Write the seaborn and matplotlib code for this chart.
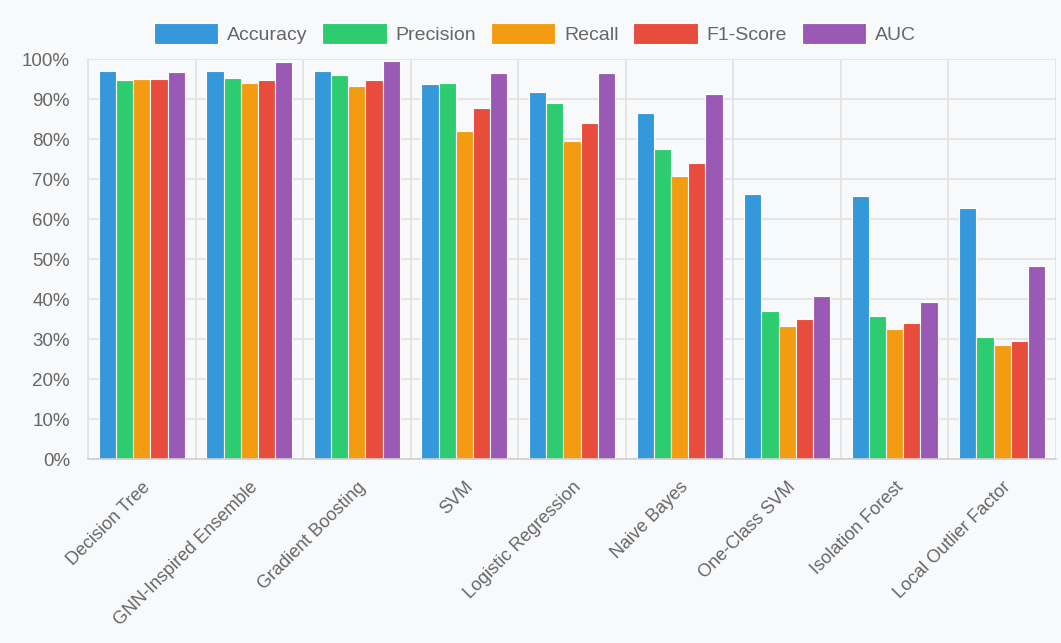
import matplotlib
matplotlib.use("Agg")
import matplotlib.pyplot as plt
import seaborn as sns
import pandas as pd
from matplotlib.ticker import FuncFormatter, FixedLocator

models = ["Decision Tree", "GNN-Inspired Ensemble", "Gradient Boosting", "SVM",
          "Logistic Regression", "Naive Bayes", "One-Class SVM", "Isolation Forest",
          "Local Outlier Factor"]
accuracy = [97.1, 97.1, 97.1, 93.8, 91.7, 86.4, 66.3, 65.8, 62.8]
precision = [94.8, 95.3, 95.9, 94.1, 88.9, 77.5, 36.9, 35.8, 30.5]
recall = [94.9, 93.9, 93.3, 82.1, 79.5, 70.7, 33.3, 32.4, 28.4]
f1_score = [94.9, 94.7, 94.7, 87.7, 83.9, 73.9, 35.0, 34.0, 29.4]
auc = [96.8, 99.2, 99.4, 96.6, 96.4, 91.2, 40.7, 39.2, 48.2]

metrics = ["Accuracy", "Precision", "Recall", "F1-Score", "AUC"]
colors = ["#3498db", "#2ecc71", "#f39c12", "#e74c3c", "#9b59b6"]

rows = []
for name, vals in zip(metrics, [accuracy, precision, recall, f1_score, auc]):
    for m, v in zip(models, vals):
        rows.append({"Model": m, "Metric": name, "Value": v})
df = pd.DataFrame(rows)

sns.set_theme(style="white")
plt.rcParams["font.family"] = ["Liberation Sans", "DejaVu Sans"]

bg = "#f8f9fb"
fig = plt.figure(figsize=(10.61, 6.43), dpi=100, facecolor=bg)
ax = fig.add_axes([88/1061, 1-459/643, (1056-88)/1061, 400/643])
ax.set_facecolor(bg)

sns.barplot(data=df, x="Model", y="Value", hue="Metric", order=models,
            hue_order=metrics, palette=colors, width=0.8, ax=ax,
            edgecolor="white", linewidth=0.8, saturation=1, errorbar=None)

ax.set_ylim(0, 100)
ax.set_xlim(-0.5, len(models) - 0.5)
ax.yaxis.set_major_locator(FixedLocator(range(0, 101, 10)))
ax.yaxis.set_major_formatter(FuncFormatter(lambda v, p: f"{int(v)}%"))
ax.set_xlabel("")
ax.set_ylabel("")

gridc = "#e2e2e2"
ax.grid(axis="y", color=gridc, linewidth=1.2)
for i in range(len(models) + 1):
    ax.axvline(i - 0.5, color=gridc, linewidth=1.2, zorder=0)
ax.set_axisbelow(True)

for s in ["top", "right"]:
    ax.spines[s].set_visible(False)
ax.spines["left"].set_color(gridc)
ax.spines["bottom"].set_color("#cfcfcf")
ax.spines["bottom"].set_linewidth(1.2)

ax.tick_params(axis="y", length=9, color=gridc, width=1.2, labelcolor="#666666",
               labelsize=13.5, pad=4)
ax.set_xticks(range(len(models)))
ax.set_xticklabels(models, rotation=45, ha="right", rotation_mode="anchor",
                   color="#666666", fontsize=13)
ax.tick_params(axis="x", length=0, pad=14)
ax.set_xticks([i - 0.5 for i in range(len(models) + 1)], minor=True)
ax.tick_params(axis="x", which="minor", length=10, color=gridc, width=1.2)

ax.get_legend().remove()
handles, labels = ax.get_legend_handles_labels()
fig.legend(handles, labels, loc="center", bbox_to_anchor=(535/1061, 1-33.5/643),
           ncol=5, frameon=False, fontsize=14, handlelength=3.3, handleheight=1.3,
           columnspacing=0.75, handletextpad=0.47, labelcolor="#666666",
           borderpad=0, borderaxespad=0)

fig.savefig("out.png", dpi=100, facecolor=bg)
